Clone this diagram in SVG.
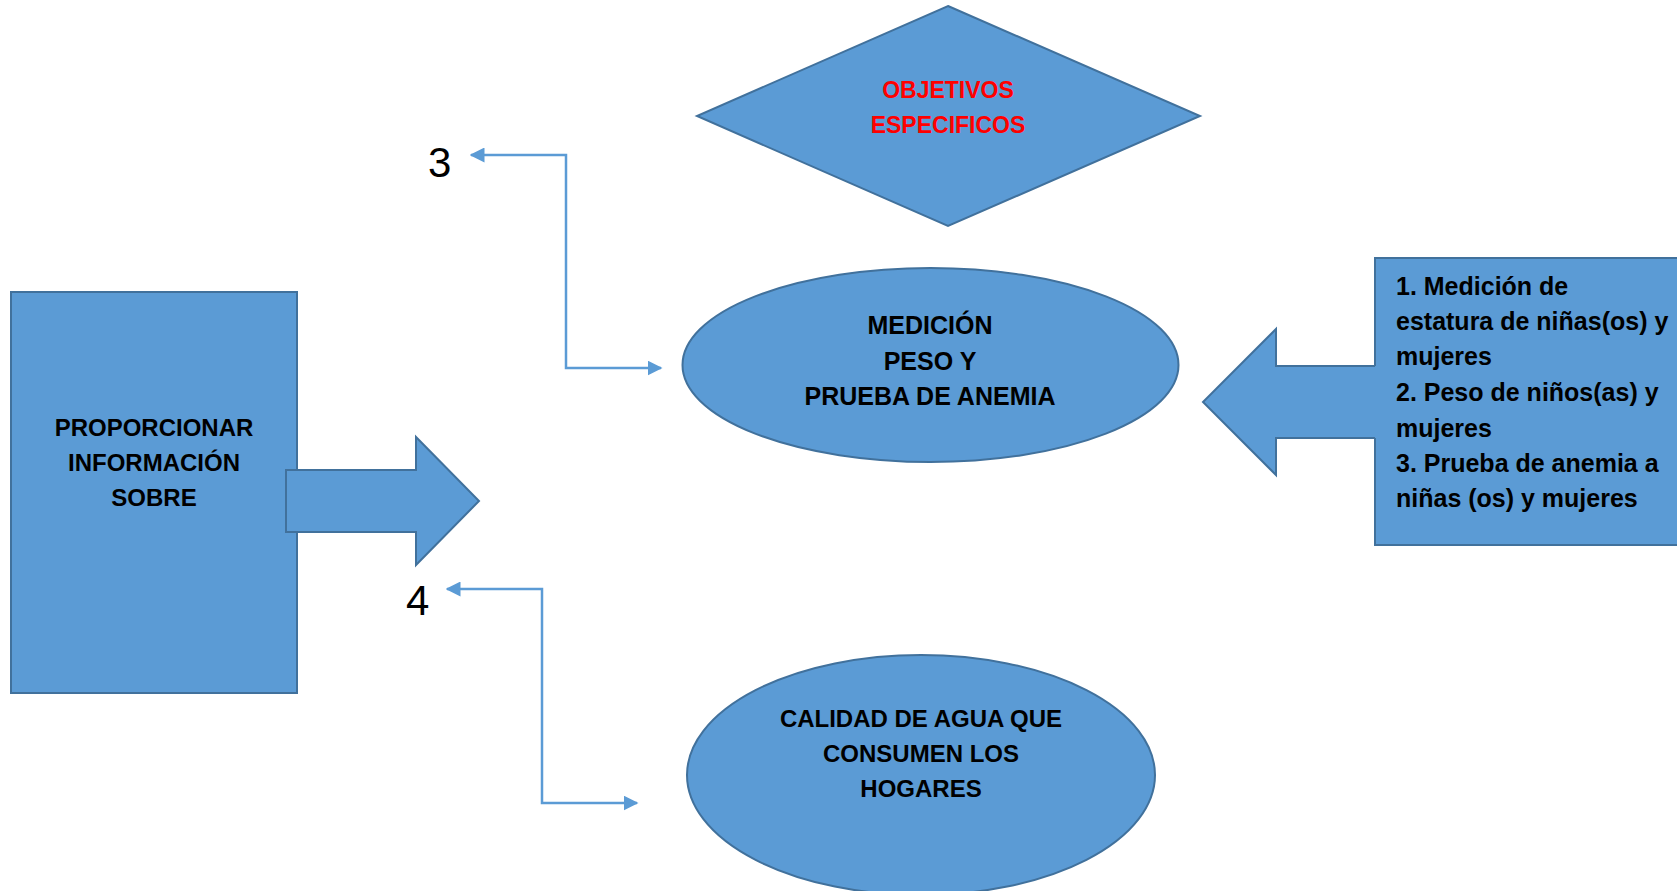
<svg xmlns="http://www.w3.org/2000/svg" width="1677" height="891" viewBox="0 0 1677 891">
<defs>
<style>
.shape{fill:#5B9BD5;stroke:#41719C;stroke-width:2}
.lbl{font-family:"Liberation Sans",Arial,sans-serif;font-weight:bold;font-size:25px;fill:#000;text-anchor:middle}
.red{fill:#FF0000;font-size:23px}
.sm{font-size:24px}
.lft{text-anchor:start}
.num{font-family:"Liberation Sans",Arial,sans-serif;font-size:42px;fill:#000}
.conn{fill:none;stroke:#5B9BD5;stroke-width:2.5}
</style>
<marker id="ah" viewBox="0 0 10 10" refX="9" refY="5" markerWidth="6" markerHeight="6" markerUnits="strokeWidth" orient="auto-start-reverse">
<path d="M0,0 L10,5 L0,10 z" fill="#5B9BD5"/>
</marker>
</defs>
<rect width="1677" height="891" fill="#fff"/>
<g id="objetivos">
<polygon class="shape" points="948,6 1200,116 948,226 697,116"/>
<text class="lbl red" x="948" y="98">OBJETIVOS</text>
<text class="lbl red" x="948" y="133">ESPECIFICOS</text>
</g>
<g id="proporcionar">
<rect class="shape" x="11" y="292" width="286" height="401"/>
<text class="lbl sm" x="154" y="436">PROPORCIONAR</text>
<text class="lbl sm" x="154" y="471">INFORMACIÓN</text>
<text class="lbl sm" x="154" y="506">SOBRE</text>
</g>
<g id="arrow-right">
<polygon class="shape" points="286,470 416,470 416,437 479,501 416,565 416,532 286,532"/>
</g>
<g id="medicion">
<ellipse class="shape" cx="930.5" cy="365" rx="248" ry="97"/>
<text class="lbl" x="930" y="334">MEDICIÓN</text>
<text class="lbl" x="930" y="370">PESO Y</text>
<text class="lbl" x="930" y="405">PRUEBA DE ANEMIA</text>
</g>
<g id="calidad">
<ellipse class="shape" cx="921" cy="775" rx="234" ry="120"/>
<text class="lbl sm" x="921" y="727">CALIDAD DE AGUA QUE</text>
<text class="lbl sm" x="921" y="762">CONSUMEN LOS</text>
<text class="lbl sm" x="921" y="797">HOGARES</text>
</g>
<g id="lista">
<rect class="shape" x="1375" y="258" width="305" height="287"/>
<polygon points="1378,366 1276,366 1276,329 1203,402 1276,475 1276,438 1378,438" fill="#5B9BD5"/>
<polyline points="1375,366 1276,366 1276,329 1203,402 1276,475 1276,438 1375,438" fill="none" stroke="#41719C" stroke-width="2"/>
<text class="lbl lft" x="1396" y="295">1. Medición de</text>
<text class="lbl lft" x="1396" y="330">estatura de niñas(os) y</text>
<text class="lbl lft" x="1396" y="365">mujeres</text>
<text class="lbl lft" x="1396" y="401">2. Peso de niños(as) y</text>
<text class="lbl lft" x="1396" y="437">mujeres</text>
<text class="lbl lft" x="1396" y="472">3. Prueba de anemia a</text>
<text class="lbl lft" x="1396" y="507">niñas (os) y mujeres</text>
</g>
<g id="label-3"><text class="num" x="428" y="177">3</text></g>
<g id="label-4"><text class="num" x="406" y="615">4</text></g>
<g id="connectors">
<polyline class="conn" points="471,155 566,155 566,368 661,368" marker-start="url(#ah)" marker-end="url(#ah)"/>
<polyline class="conn" points="447,589 542,589 542,803 637,803" marker-start="url(#ah)" marker-end="url(#ah)"/>
</g>
</svg>
